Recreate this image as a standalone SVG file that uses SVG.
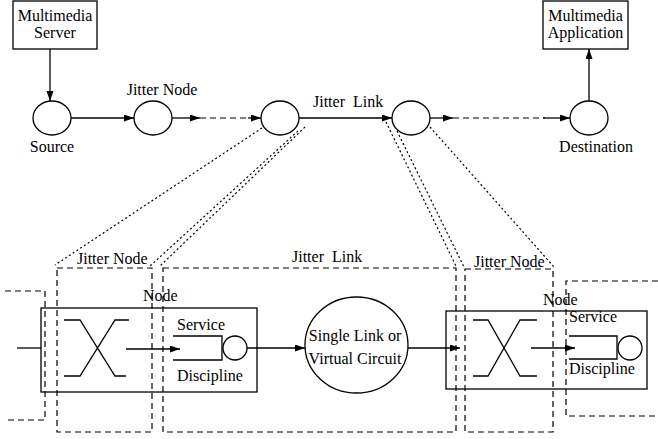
<svg xmlns="http://www.w3.org/2000/svg" width="658" height="439" viewBox="0 0 658 439">
<style>
text{font-family:"Liberation Serif","Times New Roman","DejaVu Serif",serif;font-size:16px;fill:#000}
.c{text-anchor:middle}
.s{fill:none;stroke:#000;stroke-width:1.3}
.d{fill:none;stroke:#000;stroke-width:1.2;stroke-dasharray:6 4}
.dt{fill:none;stroke:#000;stroke-width:1.2;stroke-dasharray:2 2.5}
.a{marker-end:url(#ah)}
</style>
<defs>
<marker id="ah" markerUnits="userSpaceOnUse" markerWidth="11" markerHeight="8" refX="10" refY="3.5" orient="auto">
<path d="M0,0 L10,3.5 L0,7 z" fill="#000"/>
</marker>
</defs>
<rect width="658" height="439" fill="#fff"/>

<g id="server">
<rect class="s" x="13" y="1" width="84" height="48"/>
<text class="c" x="55" y="21" font-family="Liberation Serif, serif">Multimedia</text>
<text class="c" x="55" y="38" font-family="Liberation Serif, serif">Server</text>
</g>
<g id="application">
<rect class="s" x="543" y="1" width="85" height="48"/>
<text class="c" x="585.5" y="21">Multimedia</text>
<text class="c" x="585.5" y="38">Application</text>
</g>
<g id="source">
<ellipse class="s" cx="52" cy="118" rx="19" ry="17"/>
<text class="c" x="52" y="152">Source</text>
</g>
<g id="jitter-node-top">
<ellipse class="s" cx="153" cy="118" rx="19" ry="17"/>
<text class="c" x="162" y="95">Jitter Node</text>
</g>
<g id="node3">
<ellipse class="s" cx="280" cy="118" rx="19" ry="17"/>
</g>
<g id="node4">
<ellipse class="s" cx="411" cy="118" rx="19" ry="17"/>
</g>
<g id="destination">
<ellipse class="s" cx="589" cy="118" rx="19" ry="17"/>
<text class="c" x="596" y="152">Destination</text>
</g>
<text id="jitter-link-top" x="313" y="107" xml:space="preserve">Jitter  Link</text>

<g id="far-left-box"><path class="d" d="M5 291 H45 V420 H5"/></g>
<g id="left-jitter-node">
<rect class="d" x="57" y="268" width="95" height="164"/>
<text x="77" y="264">Jitter Node</text>
</g>
<g id="jitter-link-box">
<rect class="d" x="163" y="268" width="293" height="164"/>
<text x="292" y="262" xml:space="preserve">Jitter  Link</text>
</g>
<g id="right-jitter-node">
<rect class="d" x="465" y="269" width="88" height="163"/>
<text x="474" y="267">Jitter Node</text>
</g>
<g id="far-right-box"><path class="d" d="M658 281 H566 V416 H658"/></g>

<g id="left-node">
<rect class="s" x="41" y="308" width="216" height="84"/>
<text x="143" y="301">Node</text>
<path class="s" d="M64 320 H80 L115 376 H126 M64 376 H80 L115 320 H129"/>
<path class="s" d="M173 336 H222 V360 H173"/>
<circle class="s" cx="235" cy="348" r="12"/>
<text x="177" y="330">Service</text>
<text x="177" y="381">Discipline</text>
</g>
<g id="link">
<ellipse class="s" cx="356.5" cy="345" rx="51.5" ry="48"/>
<text class="c" x="355" y="341">Single Link or</text>
<text class="c" x="355" y="364">Virtual Circuit</text>
</g>
<g id="right-node">
<rect class="s" x="446" y="311" width="201" height="78"/>
<text x="543" y="305">Node</text>
<path class="s" d="M473 320 H488 L520 376 H537 M473 376 H488 L520 320 H537"/>
<path class="s" d="M569 336 H617 V359 H569"/>
<circle class="s" cx="630" cy="348" r="12"/>
<text x="569" y="322">Service</text>
<text x="569" y="374">Discipline</text>
</g>

<g id="connectors">
<line class="s a" x1="50" y1="49" x2="50" y2="101"/>
<line class="s a" x1="71" y1="118" x2="134" y2="118"/>
<line class="s a" x1="172" y1="118" x2="200" y2="118"/>
<line class="d" x1="200" y1="118" x2="250" y2="118"/>
<line class="s a" x1="248" y1="118" x2="261" y2="118"/>
<line class="s a" x1="299" y1="118" x2="392" y2="118"/>
<line class="s a" x1="430" y1="118" x2="453" y2="118"/>
<line class="d" x1="453" y1="118" x2="545" y2="118"/>
<line class="s a" x1="543" y1="118" x2="570" y2="118"/>
<line class="s a" x1="589" y1="101" x2="589" y2="49"/>

<line class="dt" x1="262" y1="128" x2="55" y2="265"/>
<line class="dt" x1="298" y1="131" x2="150" y2="266"/>
<line class="dt" x1="305" y1="127" x2="160" y2="266"/>
<line class="dt" x1="386" y1="122" x2="456" y2="266"/>
<line class="dt" x1="397" y1="131" x2="464" y2="267"/>
<line class="dt" x1="430" y1="127" x2="554" y2="267"/>

<line class="s" x1="17" y1="348" x2="41" y2="348"/>
<line class="s a" x1="126" y1="349" x2="180" y2="349"/>
<line class="s a" x1="247" y1="348" x2="305" y2="348"/>
<line class="s a" x1="408" y1="348" x2="460" y2="348"/>
<line class="s a" x1="531" y1="348" x2="575" y2="348"/>
</g>
</svg>
